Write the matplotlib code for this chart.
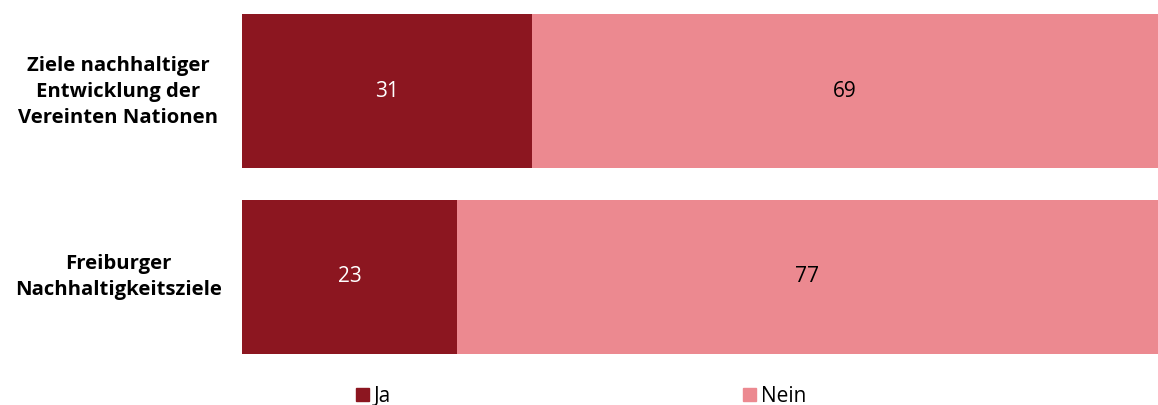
import matplotlib
matplotlib.use("Agg")
import matplotlib.pyplot as plt
from matplotlib.patches import Patch
from matplotlib.transforms import ScaledTranslation

categories = ["Ziele nachhaltiger\nEntwicklung der\nVereinten Nationen",
              "Freiburger\nNachhaltigkeitsziele"]
ja = [31, 23]
nein = [69, 77]
series_names = ["Ja", "Nein"]
colors = ["#8C1620", "#EC8990"]

plt.rcParams['font.family'] = ['Open Sans', 'DejaVu Sans']

fig = plt.figure(figsize=(11.58, 4.05), dpi=100)
ax = fig.add_axes([242 / 1158, 51 / 405, 916 / 1158, 340 / 405])

# the original cuts the bars off a bit before 100
xmax = 98

h = 0.828
y = list(range(len(categories)))
ax.barh(y, ja, height=h, color=colors[0])
ax.barh(y, nein, left=ja, height=h, color=colors[1])

for i in y:
    ax.text(ja[i] / 2, i, str(ja[i]), ha='center', va='center',
            color='white', fontsize=15)
    # label sits in the middle of the visible part of the bar
    ax.text((ja[i] + xmax) / 2, i, str(nein[i]), ha='center', va='center',
            color='black', fontsize=15)

ax.set_xlim(0, xmax)
ax.set_ylim(len(categories) - 1 + h / 2, -h / 2)
ax.set_yticks(y)
ax.set_yticklabels(categories, fontsize=14.6, fontweight='bold', ha='center',
                   linespacing=1.4)
# pad in points: label centre ~124 px left of the axes
ax.tick_params(axis='y', length=0, pad=89)
# nudge the labels up a little
shift = ScaledTranslation(0, 5 / 100, fig.dpi_scale_trans)
for lab in ax.get_yticklabels():
    lab.set_transform(lab.get_transform() + shift)
ax.set_xticks([])
for s in ax.spines.values():
    s.set_visible(False)

handles = [Patch(color=c) for c in colors]
fig.legend(handles, series_names, loc='center', bbox_to_anchor=(0.502, 0.022),
           ncol=2, frameon=False, fontsize=15, handlelength=0.6,
           handleheight=0.6, handletextpad=0.25, columnspacing=16.9)

fig.savefig("out.png", dpi=100)
